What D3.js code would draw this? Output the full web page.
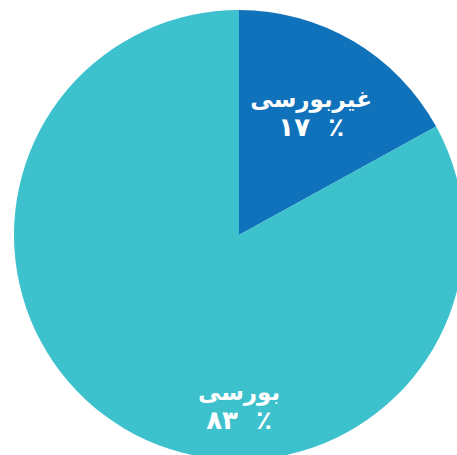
<!DOCTYPE html>
<html>
<head>
<meta charset="utf-8">
<script src="https://cdn.jsdelivr.net/npm/d3@7"></script>
<style>
  html, body { margin: 0; padding: 0; background: #fff; overflow: hidden; }
</style>
</head>
<body>
<script>
// data
var categories = ["غیربورسی", "بورسی"];
var values = [17, 83];
var pctLabels = ["۱۷  ٪", "۸۳  ٪"];
var colors = ["#1072BA", "#3DC1CD"];

var width = 457, height = 455;
var cx = 239, cy = 235, radius = 225;

var svg = d3.select("body").append("svg")
  .attr("width", width)
  .attr("height", height);

var g = svg.append("g").attr("transform", "translate(" + cx + "," + cy + ")");

var pie = d3.pie().sort(null).value(function(d){ return d; });
var arcs = pie(values);

var arc = d3.arc().innerRadius(0).outerRadius(radius);

g.selectAll("path")
  .data(arcs)
  .enter().append("path")
  .attr("d", arc)
  .attr("fill", function(d, i){ return colors[i]; });

// label placement: small slice at its centroid, large one straight down
var labelArc = d3.arc().innerRadius(radius * 0.63).outerRadius(radius * 0.63);
function labelPos(d, i) {
  if (i === 0) return labelArc.centroid(d);
  var r = radius * 0.76;
  return [0, r];
}

var labels = g.selectAll("g.lbl")
  .data(arcs)
  .enter().append("g")
  .attr("class", "lbl")
  .attr("transform", function(d, i){ var p = labelPos(d, i); return "translate(" + p[0] + "," + p[1] + ")"; });

labels.append("text")
  .attr("text-anchor", "middle")
  .attr("y", -6)
  .attr("fill", "#fff")
  .style("font-family", "DejaVu Sans")
  .style("font-weight", "bold")
  .style("font-size", "23px")
  .attr("direction", "rtl")
  .text(function(d, i){ return categories[i]; });

labels.append("text")
  .attr("text-anchor", "middle")
  .attr("y", 23)
  .attr("fill", "#fff")
  .style("font-family", "DejaVu Sans")
  .style("font-weight", "bold")
  .style("font-size", "26px")
  .style("white-space", "pre")
  .style("unicode-bidi", "bidi-override")
  .attr("direction", "ltr")
  .text(function(d, i){ return pctLabels[i]; });
</script>
</body>
</html>
